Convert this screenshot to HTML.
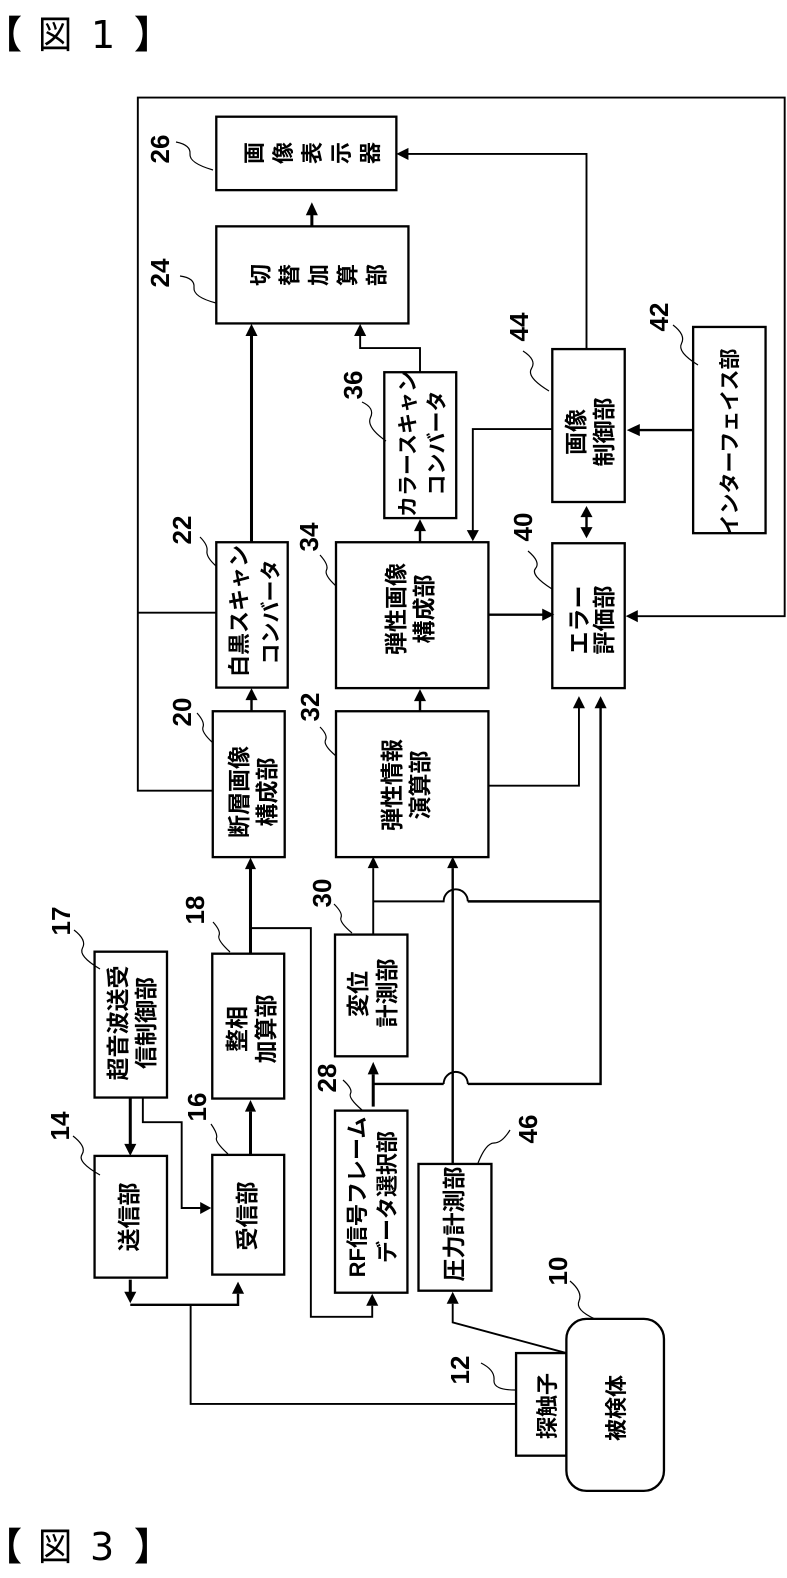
<!DOCTYPE html>
<html><head><meta charset="utf-8"><style>
html,body{margin:0;padding:0;background:#fff}
svg{display:block}
.b{fill:#fff;stroke:#000;stroke-width:2.3}
.l{fill:none;stroke:#000;stroke-width:1.9}
.m{fill:none;stroke:#000;stroke-width:2.4}
.h{fill:none;stroke:#000;stroke-width:3}
.s{fill:none;stroke:#000;stroke-width:1.2}
.t{font-family:"Liberation Sans","Noto Sans CJK JP",sans-serif;font-size:23px;font-weight:700;text-anchor:middle;fill:#000}
.k{font-family:"Liberation Sans","Noto Sans CJK JP",sans-serif;font-size:21px;font-weight:700;text-anchor:middle;fill:#000}
.r{font-family:"Liberation Sans","Noto Sans CJK JP",sans-serif;font-size:22px;font-weight:700;text-anchor:middle;fill:#000}
.g{font-family:"Liberation Sans","Noto Sans CJK JP",sans-serif;font-size:22px;font-weight:700;fill:#000}
.n{font-family:"Liberation Sans",sans-serif;font-size:26px;font-weight:700;text-anchor:middle;fill:#000}
.c{font-family:"DejaVu Sans","Noto Sans CJK JP",sans-serif;font-size:38px;fill:#000}
.d{font-family:"Noto Sans CJK JP",sans-serif;font-size:38px;font-weight:700;fill:#000}
.e{font-family:"Noto Sans CJK JP",sans-serif;font-size:38px;font-weight:400;fill:#000}
</style></head><body>
<svg width="787" height="1578" viewBox="0 0 787 1578" xmlns="http://www.w3.org/2000/svg">
<rect width="787" height="1578" fill="#fff"/>
<text class="d" x="-16" y="48">【</text><text class="e" transform="translate(38,48) scale(.9,1)">図</text><text class="c" x="91" y="48">1</text><text class="d" x="134" y="48">】</text>
<text class="d" x="-16" y="1560">【</text><text class="e" transform="translate(38,1560) scale(.9,1)">図</text><text class="c" x="90" y="1560">3</text><text class="d" x="134" y="1560">】</text>

<g transform="scale(1.006)">
<!-- boxes -->
<rect class="b" x="215" y="116" width="179" height="73"/>
<rect class="b" x="215" y="225" width="191" height="96.5"/>
<rect class="b" x="382" y="370" width="71.5" height="145"/>
<rect class="b" x="549" y="347" width="72" height="152"/>
<rect class="b" x="689" y="325" width="72" height="205"/>
<rect class="b" x="215" y="539" width="71" height="144.5"/>
<rect class="b" x="334" y="539" width="151.5" height="145"/>
<rect class="b" x="549" y="540" width="72" height="144"/>
<rect class="b" x="211.500" y="707" width="71.500" height="145"/>
<rect class="b" x="334" y="707" width="151.500" height="145"/>
<rect class="b" x="94" y="946" width="72" height="145"/>
<rect class="b" x="211" y="948" width="71.500" height="144"/>
<rect class="b" x="333" y="929" width="72" height="121"/>
<rect class="b" x="94" y="1149" width="72" height="121"/>
<rect class="b" x="211" y="1148" width="71.500" height="119"/>
<rect class="b" x="333" y="1104" width="72" height="181"/>
<rect class="b" x="416" y="1157" width="72.500" height="126"/>
<rect class="b" x="513" y="1345" width="50" height="102"/>
<rect class="b" x="563" y="1311" width="97" height="171" rx="20" ry="20"/>

<!-- lines -->
<path class="l" d="M212 786H137V97H780V612.500H630"/>
<path class="l" d="M137 609H215"/>
<path class="h" d="M310 225V212"/>
<path class="l" d="M583 347V153H405"/>
<path class="h" d="M250 539V333"/>
<path class="l" d="M417.500 370V346H358V333"/>
<path class="l" d="M549 426.500H470V530"/>
<path class="m" d="M689 427.500H634"/>
<path class="m" d="M583 512V526"/>
<path class="m" d="M417.500 539V526M250 707V695M417.500 707V695"/>
<path class="m" d="M485 611H540"/>
<path class="l" d="M485 781H575.500V703"/>
<path class="m" d="M597 703V1077.500H465"/>
<path class="l" d="M465 1077.500A12 12 0 0 0 441 1077.500"/>
<path class="m" d="M441 1077.500H371"/>
<path class="l" d="M371 929V863M371 896H441A12 12 0 0 1 465 896"/>
<path class="m" d="M465 896H597"/>
<path class="m" d="M450 1157V863"/>
<path class="h" d="M249 948V863"/>
<path class="l" d="M249 922.600H309V1309H370V1298"/>
<path class="h" d="M371 1100V1068"/>
<path class="h" d="M249 1148V1105"/>
<path class="h" d="M129.500 1091V1140"/>
<path class="l" d="M142 1091V1115.500H180.600V1200.800H200"/>
<path class="h" d="M129.500 1272V1286"/>
<path class="m" d="M129.500 1297H236.600V1286"/>
<path class="l" d="M189.500 1297V1395.600H513"/>
<path class="l" d="M450 1296V1314.500L563 1345"/>

<!-- arrowheads -->
<g fill="#000">
<path d="M394 153L406 147V159Z"/>
<path d="M310 201L304 214H316Z"/>
<path d="M250 322L244 334H256Z"/>
<path d="M358 322L352 334H364Z"/>
<path d="M623 427.500L636 421.500V433.500Z"/>
<path d="M622 612.500L634 606.500V618.500Z"/>
<path d="M470 538L464 527H476Z"/>
<path d="M583 503L577 514H589Z"/>
<path d="M583 535L577 524H589Z"/>
<path d="M417.500 516L411.500 528H423.500Z"/>
<path d="M250 684L244 696H256Z"/>
<path d="M417.500 685L411.500 697H423.500Z"/>
<path d="M551 611L539 605V617Z"/>
<path d="M575.500 692L569.500 704H581.500Z"/>
<path d="M597 692L591 704H603Z"/>
<path d="M371 851.500L365.500 863H376.500Z"/>
<path d="M450 851.500L444.500 863H455.500Z"/>
<path d="M249 852.500L243.500 864H254.500Z"/>
<path d="M371 1055.500L365.500 1068H376.500Z"/>
<path d="M249 1093.500L243.500 1105H254.500Z"/>
<path d="M129.500 1149L123.500 1137H135.500Z"/>
<path d="M210 1200.800L199 1194.800V1206.800Z"/>
<path d="M129.500 1295.500L123.500 1284H135.500Z"/>
<path d="M236.600 1274L230.600 1286H242.600Z"/>
<path d="M370 1286L364 1298H376Z"/>
<path d="M450 1284L444 1296H456Z"/>
</g>
</g>

<!-- leaders -->
<g>
<path class="s" d="M74 930Q87 940 82.500 948T100 969"/>
<path class="s" d="M73 1136Q87 1147 82 1154.500T100 1175"/>
<path class="s" d="M213 922Q221 931 219 935.500T230 952"/>
<path class="s" d="M211 1124Q218 1134 216.500 1138T228 1154"/>
<path class="s" d="M334 904Q343 913 341 917.500T352 933"/>
<path class="s" d="M343 1080Q353 1089 350.500 1093.500T362 1110"/>
<path class="s" d="M176 142Q191 145 190 154T213 170"/>
<path class="s" d="M180 276Q195 278 194 287.500T216 303"/>
<path class="s" d="M362 402Q375 408 370.500 417.500T386 441"/>
<path class="s" d="M523 351Q537 360 531.500 368.500T549 391"/>
<path class="s" d="M673 325Q686 335 681.500 343.500T698 365"/>
<path class="s" d="M200 537Q208 545 207 551T216 566"/>
<path class="s" d="M197 713Q205 722 203 727T213 743"/>
<path class="s" d="M320 555Q329 565 326.500 570T336 586"/>
<path class="s" d="M320 727Q328 735 325.500 740T336 756"/>
<path class="s" d="M528 551Q541 562 535.500 568.500T552 589"/>
<path class="s" d="M481 1363Q495 1370 494 1380T515 1390"/>
<path class="s" d="M570 1281Q583 1292 579 1301T595 1319"/>
<path class="s" d="M478 1163Q486 1143 494 1143T510 1130"/>
</g>

<!-- block labels -->
<text class="g" x="262 291 320 349 378" y="164" rotate="-90">画像表示器</text>
<text class="g" x="268.500 297.500 326.500 355.500 384.500" y="286" rotate="-90">切替加算部</text>
<text class="k" transform="translate(415,444) rotate(-90)">カラースキャン</text>
<text class="k" transform="translate(444,443) rotate(-90)">コンバータ</text>
<text class="t" transform="translate(584,432) rotate(-90)">画像</text>
<text class="t" transform="translate(612,432) rotate(-90)">制御部</text>
<text class="k" transform="translate(737,442) rotate(-90)">インターフェイス部</text>
<text class="r" transform="translate(247,611) rotate(-90)">白黒スキャン</text>
<text class="k" transform="translate(278,612) rotate(-90)">コンバータ</text>
<text class="t" transform="translate(404,609) rotate(-90)">弾性画像</text>
<text class="t" transform="translate(432,609) rotate(-90)">構成部</text>
<text class="t" transform="translate(587,620) rotate(-90)">エラー</text>
<text class="t" transform="translate(612,620) rotate(-90)">評価部</text>
<text class="t" transform="translate(247,792) rotate(-90)">断層画像</text>
<text class="t" transform="translate(275,792) rotate(-90)">構成部</text>
<text class="t" transform="translate(400,785) rotate(-90)">弾性情報</text>
<text class="t" transform="translate(428,785) rotate(-90)">演算部</text>
<text class="t" transform="translate(126,1023) rotate(-90)">超音波送受</text>
<text class="t" transform="translate(154,1023) rotate(-90)">信制御部</text>
<text class="t" transform="translate(245,1029) rotate(-90)">整相</text>
<text class="t" transform="translate(274,1029) rotate(-90)">加算部</text>
<text class="t" transform="translate(366,994) rotate(-90)">変位</text>
<text class="t" transform="translate(395,993) rotate(-90)">計測部</text>
<text class="t" transform="translate(137,1217) rotate(-90)">送信部</text>
<text class="t" transform="translate(255,1216) rotate(-90)">受信部</text>
<text class="r" transform="translate(365,1197) rotate(-90)">RF信号フレーム</text>
<text class="r" transform="translate(395,1197) rotate(-90)">データ選択部</text>
<text class="t" transform="translate(462,1224) rotate(-90)">圧力計測部</text>
<text class="r" transform="translate(555,1406) rotate(-90)">探触子</text>
<text class="r" transform="translate(624,1408) rotate(-90)">被検体</text>

<!-- reference numbers -->
<text class="n" transform="translate(169,149) rotate(-90)">26</text>
<text class="n" transform="translate(169,273) rotate(-90)">24</text>
<text class="n" transform="translate(191,530) rotate(-90)">22</text>
<text class="n" transform="translate(191,712) rotate(-90)">20</text>
<text class="n" transform="translate(362,385) rotate(-90)">36</text>
<text class="n" transform="translate(318,537) rotate(-90)">34</text>
<text class="n" transform="translate(319,707) rotate(-90)">32</text>
<text class="n" transform="translate(528,327) rotate(-90)">44</text>
<text class="n" transform="translate(532,527) rotate(-90)">40</text>
<text class="n" transform="translate(668,317) rotate(-90)">42</text>
<text class="n" transform="translate(70,921) rotate(-90)">17</text>
<text class="n" transform="translate(69,1126) rotate(-90)">14</text>
<text class="n" transform="translate(204,910) rotate(-90)">18</text>
<text class="n" transform="translate(206,1107) rotate(-90)">16</text>
<text class="n" transform="translate(331,893) rotate(-90)">30</text>
<text class="n" transform="translate(336,1078) rotate(-90)">28</text>
<text class="n" transform="translate(537,1129) rotate(-90)">46</text>
<text class="n" transform="translate(567,1271) rotate(-90)">10</text>
<text class="n" transform="translate(469,1370) rotate(-90)">12</text>
</svg>
</body></html>
